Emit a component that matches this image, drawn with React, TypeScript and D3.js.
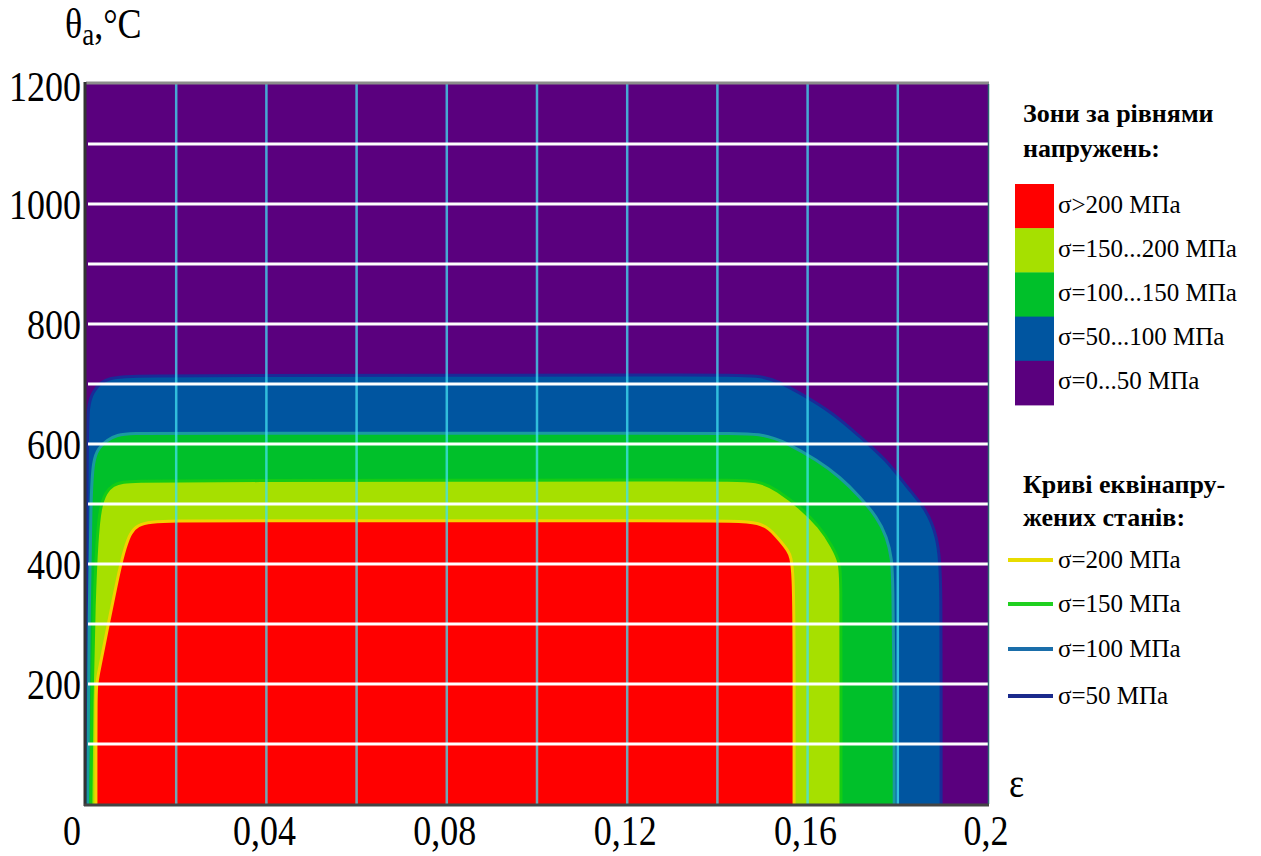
import React from "react";
import * as d3 from "d3";

// ---- data (ε, θa) boundaries of stress zones ----
// σ > 50 MPa zone boundary
const blueEps = [0.0001, 0.0002, 0.0004, 0.0016, 0.0031, 0.0053, 0.0091, 0.02, 0.14, 0.1494, 0.1539, 0.1583, 0.1656, 0.1716, 0.1776, 0.182, 0.1865, 0.1887, 0.1893, 0.1896, 0.1896, 0.1896];
const blueTheta = [0, 590, 668, 687, 702, 710, 713, 714, 715, 715, 703, 685, 652, 612, 573, 528, 490, 445, 407, 352, 200, 0];
// σ > 100 MPa zone boundary
const greenEps = [0.0004, 0.0007, 0.0011, 0.0016, 0.0027, 0.0047, 0.0069, 0.0098, 0.02, 0.14, 0.1499, 0.1554, 0.1621, 0.1672, 0.1716, 0.1754, 0.1776, 0.1787, 0.1789, 0.1792, 0.1792];
const greenTheta = [0, 340, 518, 573, 593, 607, 615, 618, 618, 618, 618, 602, 573, 545, 512, 478, 445, 407, 373, 200, 0];
// σ > 150 MPa zone boundary
const yellowEps = [0.0011, 0.0013, 0.0018, 0.0024, 0.0031, 0.0044, 0.006, 0.0082, 0.0113, 0.02, 0.14, 0.1494, 0.1532, 0.1583, 0.1627, 0.1656, 0.1672, 0.1674, 0.1674, 0.1674];
const yellowTheta = [0, 173, 340, 440, 495, 520, 532, 537, 538, 539, 540, 540, 523, 495, 462, 428, 402, 373, 200, 0];
// σ > 200 MPa zone boundary
const redEps = [0.0022, 0.0022, 0.0024, 0.0049, 0.0075, 0.0087, 0.0098, 0.0115, 0.0142, 0.0197, 0.03, 0.14, 0.1499, 0.1532, 0.1557, 0.157, 0.157, 0.157];
const redTheta = [0, 190, 205, 298, 395, 428, 452, 465, 470, 472, 472, 472, 472, 445, 423, 402, 200, 0];

const xTicks = [0, 0.04, 0.08, 0.12, 0.16, 0.2];
const xTickLabels = ["0", "0,04", "0,08", "0,12", "0,16", "0,2"];
const yTicks = [200, 400, 600, 800, 1000, 1200];
const xGrid = [0.02, 0.04, 0.06, 0.08, 0.1, 0.12, 0.14, 0.16, 0.18];
const yGrid = [100, 200, 300, 400, 500, 600, 700, 800, 900, 1000, 1100];

const zoneLabels = ["σ>200 МПа", "σ=150...200 МПа", "σ=100...150 МПа", "σ=50...100 МПа", "σ=0...50 МПа"];
const zoneColors = ["#ff0000", "#a6e000", "#00c02a", "#0055a0", "#5a007e"];
const curveLabels = ["σ=200 МПа", "σ=150 МПа", "σ=100 МПа", "σ=50 МПа"];
const curveLegendColors = ["#e8dc00", "#20d020", "#1a6eaa", "#1a2a8c"];
const curveChartColors = ["#f2d200", "#14cc14", "#1a9aa0", "#1a2a98"];

export default function App() {
  const x = d3.scaleLinear().domain([0, 0.2]).range([86, 988]);
  const y = d3.scaleLinear().domain([0, 1200]).range([804, 84]);
  const line = d3
    .line<[number, number]>()
    .x((d) => x(d[0]))
    .y((d) => y(d[1]))
    .curve(d3.curveBasis);
  const pts = (e: number[], t: number[]) => e.map((v, i) => [v, t[i]] as [number, number]);

  const zones = [
    { e: blueEps, t: blueTheta, fill: zoneColors[3], stroke: curveChartColors[3] },
    { e: greenEps, t: greenTheta, fill: zoneColors[2], stroke: curveChartColors[2] },
    { e: yellowEps, t: yellowTheta, fill: zoneColors[1], stroke: curveChartColors[1] },
    { e: redEps, t: redTheta, fill: zoneColors[0], stroke: curveChartColors[0] },
  ];

  const font = "'Liberation Serif', 'Times New Roman', serif";
  const x0 = x(0), x1 = x(0.2), y0 = y(0), y1 = y(1200);

  return (
    <svg width={1261} height={856} style={{ position: "absolute", left: 0, top: 0, background: "#fff" }} fontFamily={font}>
      <defs>
        <clipPath id="plot">
          <rect x={x0} y={y1} width={x1 - x0} height={y0 - y1} />
        </clipPath>
      </defs>
      <g clipPath="url(#plot)">
        <rect x={x0} y={y1} width={x1 - x0} height={y0 - y1} fill={zoneColors[4]} />
        {zones.map((z, i) => (
          <path key={"f" + i} d={line(pts(z.e, z.t)) + "Z"} fill={z.fill} />
        ))}
        {zones.map((z, i) => (
          <path key={"s" + i} d={line(pts(z.e, z.t)) || ""} fill="none" stroke={z.stroke} strokeWidth={3} strokeLinejoin="round" />
        ))}
        {xGrid.map((v) => (
          <line key={"vx" + v} x1={x(v)} x2={x(v)} y1={y1} y2={y0} stroke="#40e0f0" strokeOpacity={0.75} strokeWidth={2.5} />
        ))}
        {yGrid.map((v) => (
          <line key={"hy" + v} x1={x0 + 2} x2={x1} y1={y(v)} y2={y(v)} stroke="#ffffff" strokeWidth={3} />
        ))}
      </g>
      {/* frame */}
      <line x1={x0} x2={x1 + 1} y1={y1 - 1} y2={y1 - 1} stroke="#8c8c8c" strokeWidth={3} />
      <line x1={x1 + 0.5} x2={x1 + 0.5} y1={y1} y2={y0} stroke="#2a6a70" strokeWidth={1.5} />
      <line x1={x0 - 1} x2={x0 - 1} y1={y1 - 2} y2={y0 + 2} stroke="#333" strokeWidth={3} />
      <line x1={x0 - 2} x2={x1 + 1} y1={y0 + 1} y2={y0 + 1} stroke="#444" strokeWidth={3} />

      {/* y tick labels */}
      {yTicks.map((v) => (
        <text key={"yt" + v} transform={`translate(81,${y(v) + (v === 1200 ? 17 : 15)}) scale(1,1.2)`} textAnchor="end" fontSize={36} fill="#000">
          {v}
        </text>
      ))}
      {/* x tick labels */}
      {xTicks.map((v, i) => (
        <text key={"xt" + v} transform={`translate(${v === 0 ? x(v) - 14 : x(v) - 2},845) scale(1,1.2)`} textAnchor="middle" fontSize={36} fill="#000">
          {xTickLabels[i]}
        </text>
      ))}
      {/* axis titles */}
      <text transform="translate(65,38) scale(1,1.2)" fontSize={36} fill="#000">
        θ<tspan fontSize={27} dy={6}>a</tspan>
        <tspan dy={-6}>,°C</tspan>
      </text>
      <text transform="translate(1009,797) scale(1,1.2)" fontSize={36} fill="#000">ε</text>

      {/* zone legend */}
      <text x={1023} y={122} fontSize={26} fontWeight="bold" fill="#000">Зони за рівнями</text>
      <text x={1023} y={157} fontSize={26} fontWeight="bold" fill="#000">напружень:</text>
      {zoneLabels.map((lab, i) => (
        <g key={"zl" + i}>
          <rect x={1015} y={184 + i * 44.2} width={39} height={44.6} fill={zoneColors[i]} />
          <text x={1058} y={213 + i * 44} fontSize={25} fill="#000">{lab}</text>
        </g>
      ))}

      {/* curve legend */}
      <text x={1023} y={493} fontSize={26} fontWeight="bold" fill="#000">Криві еквінапру-</text>
      <text x={1023} y={526} fontSize={26} fontWeight="bold" fill="#000">жених станів:</text>
      {curveLabels.map((lab, i) => {
        const ly = [560, 604, 649, 696][i];
        return (
          <g key={"cl" + i}>
            <line x1={1008} x2={1053} y1={ly} y2={ly} stroke={curveLegendColors[i]} strokeWidth={4} />
            <text x={1058} y={ly + 8} fontSize={25} fill="#000">{lab}</text>
          </g>
        );
      })}
    </svg>
  );
}
